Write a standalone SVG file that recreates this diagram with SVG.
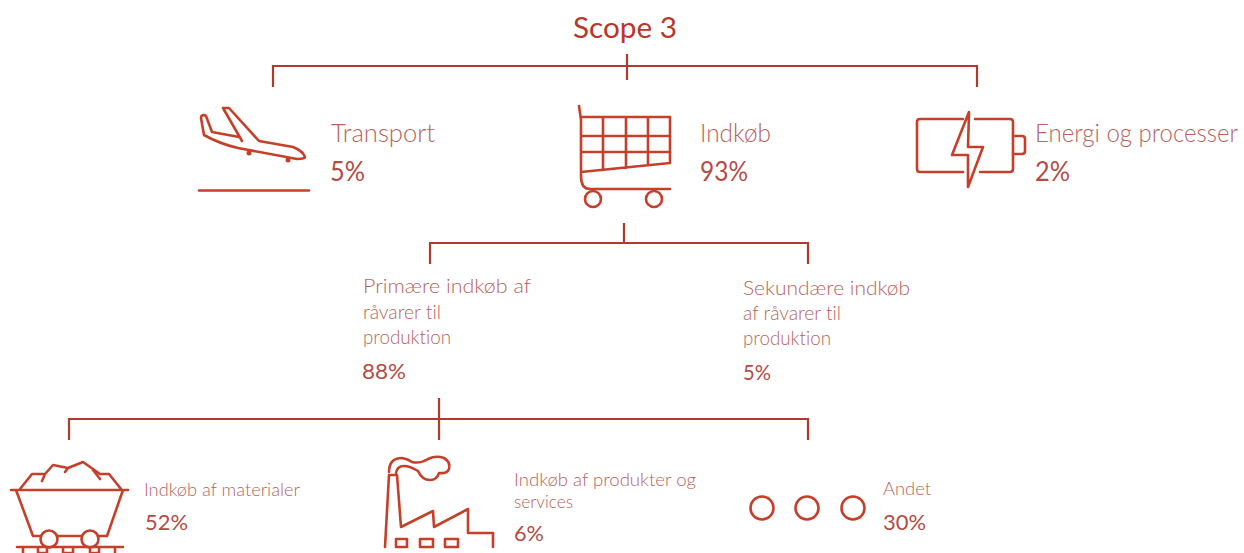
<svg xmlns="http://www.w3.org/2000/svg" width="1244" height="553" viewBox="0 0 1244 553">
<style>
.c{fill:none;stroke:#b03a2e;stroke-width:2.2}
.i{fill:none;stroke:#c5402a;stroke-width:2.6;stroke-linejoin:round;stroke-linecap:round}
text{font-family:"Lato","Open Sans","Liberation Sans",sans-serif;font-variant-ligatures:none}
.l{fill:#b9635c;font-weight:300}
.p{fill:#b74a42;font-weight:400}
</style>
<rect width="1244" height="553" fill="#fff"/>
<g id="connectors">
<path class="c" d="M273 87V66H977V87M627 54V80"/>
<path class="c" d="M430 264V243H808V264M624 223V243"/>
<path class="c" d="M69 440V419H808V440M439 398V440"/>
</g>
<g id="title"><text x="573" y="38" font-size="28" fill="#b8372b" textLength="104" lengthAdjust="spacingAndGlyphs">Scope 3</text></g>
<g id="transport">
<path class="i" d="M201 118Q201 115 204 115L206 116L212 132L239 137M223 108L229 108L259 141L293 147Q303 151 305 157Q305 159 297 159L238 148Q220 144 204 135L201 118M223 108L242 141"/>
<circle cx="249" cy="153" r="2.500" fill="#c5402a"/>
<circle cx="288" cy="160" r="2.500" fill="#c5402a"/>
<path class="i" d="M199 190.500H309"/>
<text class="l" x="331" y="142" font-size="26" textLength="104" lengthAdjust="spacingAndGlyphs">Transport</text>
<text class="p" x="330" y="181" font-size="26" textLength="35" lengthAdjust="spacingAndGlyphs">5%</text>
</g>
<g id="indkoeb">
<path class="i" d="M579 106L581 120V176Q581 189 590 189H670M581 172L670 163M581 117H670V163M581 136H670M581 152H670M603 117V170M626 117V168M648 117V165"/>
<circle class="i" cx="593" cy="199" r="8"/>
<circle class="i" cx="654" cy="199" r="8"/>
<text class="l" x="700" y="142" font-size="26" textLength="71" lengthAdjust="spacingAndGlyphs">Indkøb</text>
<text class="p" x="700" y="181" font-size="26" textLength="48" lengthAdjust="spacingAndGlyphs">93%</text>
</g>
<g id="energi">
<path class="i" d="M963 119H920Q917 119 917 122V169Q917 172 920 172H963M975 119H1010Q1013 119 1013 122V169Q1013 172 1010 172H980"/>
<path class="i" d="M1013 136H1022Q1025 136 1025 139V151Q1025 154 1022 154H1013"/>
<path class="i" d="M969 112L952 155H968V187L983 147H968Z"/>
<text class="l" x="1035" y="142" font-size="24.500" textLength="203" lengthAdjust="spacingAndGlyphs">Energi og processer</text>
<text class="p" x="1035" y="181" font-size="26" textLength="35" lengthAdjust="spacingAndGlyphs">2%</text>
</g>
<g id="primaere">
<text class="l" x="363" y="293" font-size="20.500" textLength="168" lengthAdjust="spacingAndGlyphs">Primære indkøb af</text>
<text class="l" x="363" y="319" font-size="20.500" textLength="78" lengthAdjust="spacingAndGlyphs">råvarer til</text>
<text class="l" x="363" y="344" font-size="20.500" textLength="88" lengthAdjust="spacingAndGlyphs">produktion</text>
<text class="p" x="362" y="379" font-size="21" textLength="44" lengthAdjust="spacingAndGlyphs">88%</text>
</g>
<g id="sekundaere">
<text class="l" x="743" y="295" font-size="20.500" textLength="167" lengthAdjust="spacingAndGlyphs">Sekundære indkøb</text>
<text class="l" x="743" y="320" font-size="20.500" textLength="98" lengthAdjust="spacingAndGlyphs">af råvarer til</text>
<text class="l" x="743" y="345" font-size="20.500" textLength="88" lengthAdjust="spacingAndGlyphs">produktion</text>
<text class="p" x="743" y="380" font-size="21" textLength="28" lengthAdjust="spacingAndGlyphs">5%</text>
</g>
<g id="materialer">
<path class="i" d="M11 490H128M16 490L33 536H41M57 536H82M98 536H107L123 490M20 489L32 474H45L53 465L68 468L83 462L100 474H109L121 489M42 481L45 474M65 472L68 468M93 470L100 479"/>
<circle class="i" cx="49" cy="539" r="8.500"/>
<circle class="i" cx="90" cy="539" r="8.500"/>
<path class="i" d="M17 547H123M23 547V553M38 547V553H47V547M63 547V553H73V547M90 547V553H99V547M115 547V553"/>
<text class="l" x="144" y="496" font-size="18" textLength="156" lengthAdjust="spacingAndGlyphs">Indkøb af materialer</text>
<text class="p" x="145" y="530" font-size="22" textLength="43" lengthAdjust="spacingAndGlyphs">52%</text>
</g>
<g id="produkter">
<path class="i" d="M385 547L389 475H397L401 527L433 511L434 527L468 509V533H493V547"/>
<path class="i" d="M389 472Q389 458 402 458Q408 459 412 462Q420 464 428 459Q436 455 444 458Q451 462 449 469Q447 474 439 473Q437 480 430 480Q422 480 418 471Q410 466 404 466Q397 466 396 473"/>
<path class="i" d="M396 539H407V547H396ZM420 539H433V547H420ZM445 539H458V547H445Z"/>
<text class="l" x="514" y="486" font-size="18" textLength="182" lengthAdjust="spacingAndGlyphs">Indkøb af produkter og</text>
<text class="l" x="514" y="508" font-size="18" textLength="59" lengthAdjust="spacingAndGlyphs">services</text>
<text class="p" x="514" y="541" font-size="22" textLength="30" lengthAdjust="spacingAndGlyphs">6%</text>
</g>
<g id="andet">
<circle class="i" cx="762" cy="508" r="11.500" stroke-width="3"/>
<circle class="i" cx="807" cy="508" r="11.500" stroke-width="3"/>
<circle class="i" cx="853" cy="508" r="11.500" stroke-width="3"/>
<text class="l" x="883" y="495" font-size="18" textLength="48" lengthAdjust="spacingAndGlyphs">Andet</text>
<text class="p" x="883" y="530" font-size="22" textLength="43" lengthAdjust="spacingAndGlyphs">30%</text>
</g>
</svg>
